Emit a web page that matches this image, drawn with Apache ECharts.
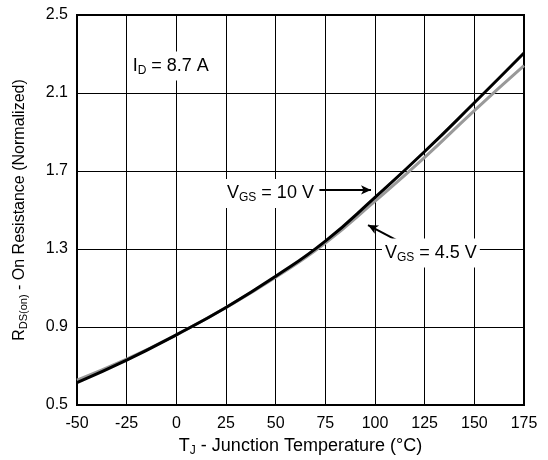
<!DOCTYPE html>
<html>
<head>
<meta charset="utf-8">
<script src="https://cdn.jsdelivr.net/npm/echarts@6/dist/echarts.min.js"></script>
<style>
  html, body { margin: 0; padding: 0; background: #fff; }
  #chart { width: 548px; height: 460px; }
</style>
</head>
<body>
<div id="chart"></div>
<script>
// Junction temperature (°C)
var temps = [-50, -25, 0, 25, 50, 75, 100, 125, 150, 175];
// Normalized on-resistance, VGS = 10 V
var rds10V = [0.615, 0.73, 0.86, 1.0, 1.16, 1.34, 1.565, 1.80, 2.05, 2.305];
// Normalized on-resistance, VGS = 4.5 V
var rds4V5 = [0.628, 0.735, 0.86, 1.0, 1.155, 1.33, 1.545, 1.77, 2.01, 2.24];
// Axis ticks
var xTicks = { min: -50, max: 175, step: 25 };
var yTicks = { min: 0.5, max: 2.5, step: 0.4 };

var FONT = 'Liberation Sans, Arial, Helvetica, sans-serif';
var chart = echarts.init(document.getElementById('chart'));

function pairs(xs, ys) { return xs.map(function (x, i) { return [x, ys[i]]; }); }

function richFor(size, subSize, drop) {
  return {
    a: { fontFamily: FONT, fontSize: size, color: '#000' },
    s: { fontFamily: FONT, fontSize: subSize, color: '#000', padding: [drop, 0, 0, 0] }
  };
}

chart.setOption({
  animation: false,
  backgroundColor: '#fff',
  grid: { left: 77, right: 24, top: 15, bottom: 55, show: true,
          outerBoundsMode: 'none',
          borderColor: '#000', borderWidth: 2, backgroundColor: 'transparent' },
  xAxis: {
    type: 'value', min: xTicks.min, max: xTicks.max, interval: xTicks.step,
    axisLine: { show: true, onZero: false, lineStyle: { color: '#000', width: 2 } },
    axisTick: { show: false },
    axisLabel: { color: '#000', fontSize: 16, fontFamily: FONT, margin: 11 },
    splitLine: { show: true, lineStyle: { color: '#000', width: 1 } },
    name: '{a|T}{s|J}{a| - Junction Temperature (°C)}',
    nameLocation: 'middle', nameGap: 30,
    nameTextStyle: { rich: richFor(18, 12, 9) }
  },
  yAxis: {
    type: 'value', min: yTicks.min, max: yTicks.max, interval: yTicks.step,
    axisLine: { show: true, onZero: false, lineStyle: { color: '#000', width: 2 } },
    axisTick: { show: false },
    axisLabel: { color: '#000', fontSize: 16, fontFamily: FONT, margin: 9,
                 formatter: function (v) { return v.toFixed(1); } },
    splitLine: { show: true, lineStyle: { color: '#000', width: 1 } },
    name: '{a|R}{s|DS(on)}{a| - On Resistance (Normalized)}',
    nameLocation: 'middle', nameGap: 48, nameRotate: 90,
    nameTextStyle: { rich: richFor(16, 11, 8) }
  },
  series: [
    {
      name: 'VGS = 4.5 V', type: 'line', smooth: true, symbol: 'none',
      data: pairs(temps, rds4V5),
      lineStyle: { color: '#999999', width: 3 }, z: 3
    },
    {
      name: 'VGS = 10 V', type: 'line', smooth: true, symbol: 'none',
      data: pairs(temps, rds10V),
      lineStyle: { color: '#000000', width: 3 }, z: 4,
      markLine: {
        silent: true, symbol: ['none', 'arrow'], symbolSize: [7, 10],
        label: { show: false },
        lineStyle: { color: '#000', width: 2, type: 'solid' },
        data: [
          [{ coord: [72, 1.603] }, { coord: [98, 1.603] }],
          [{ coord: [112.5, 1.336] }, { coord: [96.5, 1.423] }]
        ]
      }
    }
  ]
});

// Text annotations placed at data coordinates
function textAt(coord, text) {
  var p = chart.convertToPixel({ gridIndex: 0 }, coord);
  return {
    type: 'text', x: p[0], y: p[1], z: 10,
    style: {
      text: text, rich: richFor(18, 12, 9), align: 'left', verticalAlign: 'middle',
      backgroundColor: '#fff', padding: [4, 3, 4, 3]
    }
  };
}

chart.setOption({
  graphic: [
    textAt([-23.5, 2.238], '{a|I}{s|D}{a| = 8.7 A}'),
    textAt([24, 1.585], '{a|V}{s|GS}{a| = 10 V}'),
    textAt([103.5, 1.28], '{a|V}{s|GS}{a| = 4.5 V}')
  ]
});
</script>
</body>
</html>
